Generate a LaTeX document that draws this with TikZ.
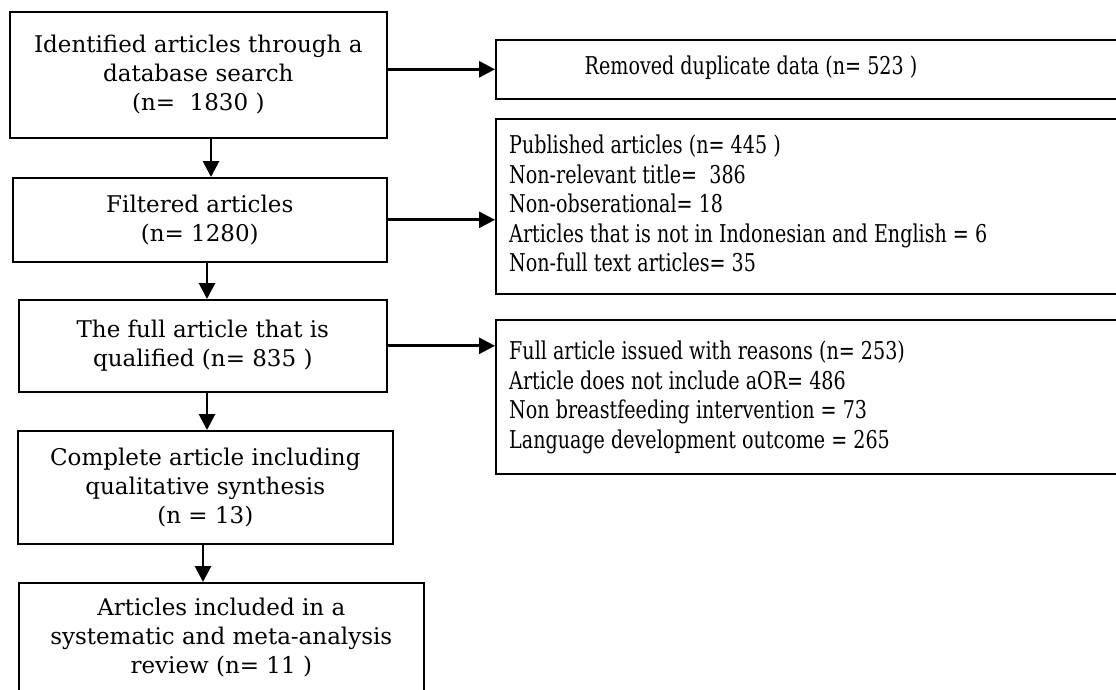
\documentclass[tikz,border=0pt]{standalone}
\usepackage{fontspec}
\newfontfamily\lf{DejaVu Serif}
\newfontfamily\rf[FakeStretch=0.78]{DejaVu Serif}
\usetikzlibrary{arrows.meta}
\begin{document}
\begin{tikzpicture}[x=1pt,y=-1pt,
  box/.style={draw, line width=1.6pt, inner sep=0pt, anchor=north west},
  ltext/.style={font=\lf\fontsize{23}{28.8}\selectfont, align=center},
  rtext/.style={font=\rf\fontsize{24.5}{29.5}\selectfont, align=left, inner sep=0pt},
  arr/.style={line width=2.8pt, -{Triangle[length=16pt,width=16pt]}}]
\useasboundingbox (0,0) rectangle (1116,689);
\begin{scope}
\clip (0,0) rectangle (1116,689);
\fill[white] (0,0) rectangle (1116,689);
% left column
\node[box, minimum width=377pt, minimum height=126pt, ltext] (b1) at (9,11)
  {Identified articles through a\\database search\\(n=\ \ 1830 )};
\node[box, minimum width=374pt, minimum height=84pt, ltext] (b2) at (12,177)
  {Filtered articles\\(n= 1280)};
\node[box, minimum width=368pt, minimum height=92pt, ltext] (b3) at (18,299)
  {The full article that is\\qualified (n= 835 )};
\node[box, minimum width=375pt, minimum height=113pt, ltext] (b4) at (17,430)
  {Complete article including\\qualitative synthesis\\(n = 13)};
\node[box, minimum width=405pt, minimum height=110pt, ltext] (b5) at (18,582)
  {Articles included in a\\systematic and meta-analysis\\review (n= 11 )};
% right column
\node[box, minimum width=630pt, minimum height=59pt] (bA) at (495,39) {};
\node[box, minimum width=630pt, minimum height=175pt] (bB) at (495,118) {};
\node[box, minimum width=630pt, minimum height=154pt] (bC) at (495,319) {};
\node[rtext, anchor=base] (tA) at (751,74) {Removed duplicate data (n= 523 )};
\node[rtext, anchor=north west] (tB) at (509,135)
  {Published articles (n= 445 )\\Non-relevant title=\ \ 386\\Non-obserational= 18\\Articles that is not in Indonesian and English = 6\\Non-full text articles= 35};
\node[rtext, anchor=north west] (tC) at (509,341)
  {Full article issued with reasons (n= 253)\\Article does not include aOR= 486\\Non breastfeeding intervention = 73\\Language development outcome = 265};
% arrows
\draw[arr] (b1.east |- bA.west) -- (bA.west);
\draw[arr] (b2.east) -- (b2.east -| bB.west);
\draw[arr] (b3.east) -- (b3.east -| bC.west);
\draw[arr] (b1.south -| 211,0) -- (b2.north -| 211,0);
\draw[arr] (b2.south -| 207,0) -- (b3.north -| 207,0);
\draw[arr] (b3.south -| 207,0) -- (b4.north -| 207,0);
\draw[arr] (b4.south -| 203,0) -- (b5.north -| 203,0);
\end{scope}
\end{tikzpicture}
\end{document}
